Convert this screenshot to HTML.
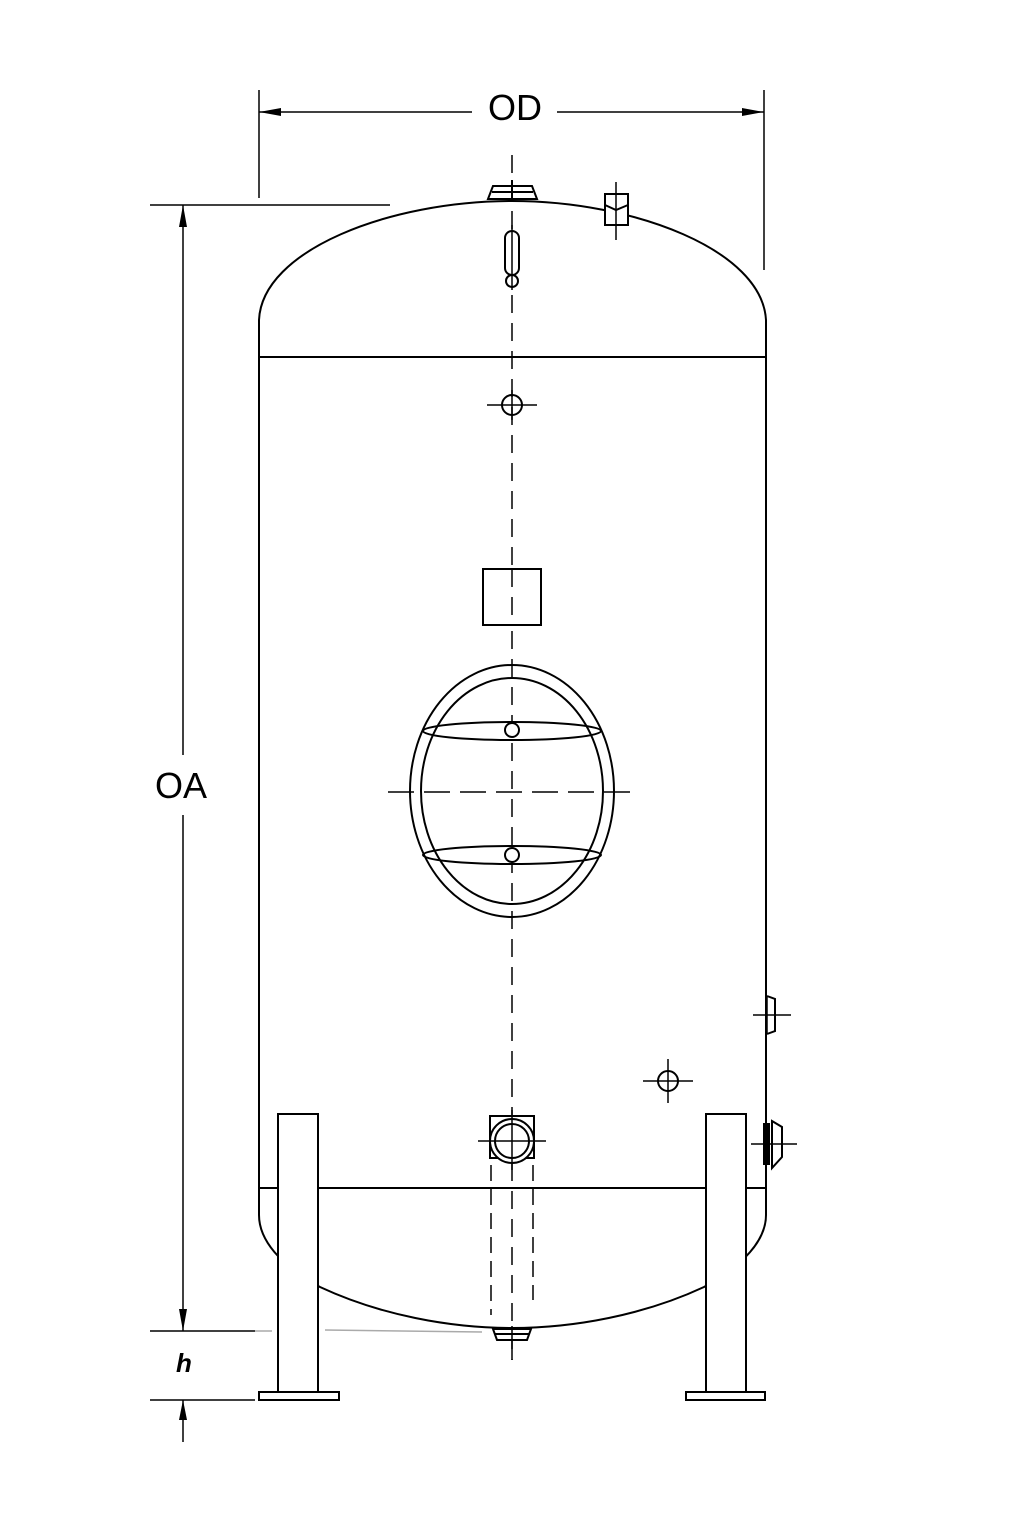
<!DOCTYPE html>
<html><head><meta charset="utf-8"><style>html,body{margin:0;padding:0;background:#fff}svg{display:block}</style></head>
<body>
<svg width="1024" height="1536" viewBox="0 0 1024 1536" xmlns="http://www.w3.org/2000/svg" fill="none" stroke="#000" stroke-width="2">
<!-- OD dimension -->
<line x1="259" y1="90" x2="259" y2="198" stroke-width="1.5"/>
<line x1="764" y1="90" x2="764" y2="270" stroke-width="1.5"/>
<line x1="259" y1="112" x2="472" y2="112" stroke-width="1.5"/>
<line x1="557" y1="112" x2="764" y2="112" stroke-width="1.5"/>
<path d="M259,112 l22,-4 l0,8z M764,112 l-22,-4 l0,8z" fill="#000" stroke="none"/>
<text x="515" y="120" font-family="Liberation Sans, sans-serif" font-size="36" fill="#000" stroke="none" text-anchor="middle">OD</text>
<!-- OA dimension -->
<line x1="150" y1="205" x2="390" y2="205" stroke-width="1.5"/>
<line x1="183" y1="205" x2="183" y2="755" stroke-width="1.5"/>
<line x1="183" y1="815" x2="183" y2="1331" stroke-width="1.5"/>
<path d="M183,205 l-4,22 l8,0z M183,1331 l-4,-22 l8,0z" fill="#000" stroke="none"/>
<text x="181" y="798" font-family="Liberation Sans, sans-serif" font-size="36" fill="#000" stroke="none" text-anchor="middle">OA</text>
<line x1="150" y1="1331" x2="255" y2="1331" stroke-width="1.5"/>
<line x1="255" y1="1331" x2="272" y2="1331" stroke="#aaa" stroke-width="1.5"/>
<line x1="325" y1="1330" x2="482" y2="1332" stroke="#aaa" stroke-width="1.5"/>
<text x="184" y="1372" font-family="Liberation Sans, sans-serif" font-size="26" font-weight="bold" font-style="italic" fill="#000" stroke="none" text-anchor="middle">h</text>
<line x1="150" y1="1400" x2="255" y2="1400" stroke-width="1.5"/>
<line x1="183" y1="1400" x2="183" y2="1442" stroke-width="1.5"/>
<path d="M183,1400 l-4,20 l8,0z" fill="#000" stroke="none"/>
<!-- vessel -->
<path d="M259,1188 L259,320 C262,250 390,201 512,201 C634,201 762,250 766,320 L766,1188"/>
<line x1="259" y1="357" x2="766" y2="357"/>
<line x1="259" y1="1188" x2="766" y2="1188"/>
<path d="M259,1188 L259,1215 C259,1240 280,1265 320,1287 C380,1315 450,1328 512,1328 C574,1328 644,1315 704,1287 C744,1265 766,1240 766,1215 L766,1188"/>
<!-- legs -->
<rect x="278" y="1114" width="40" height="278" fill="#fff"/>
<rect x="259" y="1392" width="80" height="8" fill="#fff"/>
<rect x="706" y="1114" width="40" height="278" fill="#fff"/>
<rect x="686" y="1392" width="79" height="8" fill="#fff"/>
<!-- centerline -->
<line x1="512" y1="155" x2="512" y2="1360" stroke-width="1.5" stroke-dasharray="18,10"/>
<!-- top fittings -->
<path d="M488,199 L493,186 L532,186 L537,199 Z" fill="#fff"/>
<line x1="492" y1="192" x2="533" y2="192"/>
<line x1="512" y1="180" x2="512" y2="200"/>
<rect x="505" y="231" width="14" height="44" rx="7" fill="#fff"/>
<circle cx="512" cy="281" r="6" fill="#fff"/>
<line x1="512" y1="225" x2="512" y2="290" stroke-width="1.5"/>
<rect x="605" y="194" width="23" height="31" fill="#fff"/>
<path d="M605,205 L616,210 L628,205" />
<line x1="616" y1="182" x2="616" y2="240" stroke-width="1.5"/>
<!-- nozzle -->
<circle cx="512" cy="405" r="10"/>
<line x1="487" y1="405" x2="537" y2="405" stroke-width="1.5"/>
<line x1="512" y1="390" x2="512" y2="420" stroke-width="1.5"/>
<rect x="483" y="569" width="58" height="56" fill="#fff"/>
<line x1="512" y1="569" x2="512" y2="625" stroke-width="1.5" stroke-dasharray="18,10"/>
<!-- manhole -->
<ellipse cx="512" cy="791" rx="102" ry="126"/>
<ellipse cx="512" cy="791" rx="91" ry="113"/>
<ellipse cx="512" cy="731" rx="89" ry="9"/>
<ellipse cx="512" cy="855" rx="89" ry="9"/>
<circle cx="512" cy="730" r="7" fill="#fff"/>
<circle cx="512" cy="855" r="7" fill="#fff"/>
<line x1="388" y1="792" x2="640" y2="792" stroke-width="1.5" stroke-dasharray="26,10"/>
<!-- right side fittings -->
<path d="M767,996 L775,999 L775,1031 L767,1034"/>
<line x1="753" y1="1015" x2="791" y2="1015" stroke-width="1.5"/>
<line x1="767" y1="997" x2="767" y2="1034" stroke-width="1.5"/>
<path d="M772,1121 L782,1127 L782,1157 L772,1168 Z"/>
<rect x="764" y="1124" width="5" height="40" fill="#000"/>
<line x1="751" y1="1144" x2="797" y2="1144" stroke-width="1.5"/>
<circle cx="668" cy="1081" r="10"/>
<line x1="643" y1="1081" x2="693" y2="1081" stroke-width="1.5"/>
<line x1="668" y1="1059" x2="668" y2="1103" stroke-width="1.5"/>
<!-- bottom outlet -->
<rect x="490" y="1116" width="44" height="42" fill="#fff"/>
<circle cx="512" cy="1141" r="22" fill="#fff"/>
<circle cx="512" cy="1141" r="17"/>
<line x1="478" y1="1141" x2="546" y2="1141" stroke-width="1.5"/>
<line x1="512" y1="1110" x2="512" y2="1170" stroke-width="1.5"/>
<line x1="491" y1="1165" x2="491" y2="1315" stroke-width="1.5" stroke-dasharray="16,8"/>
<line x1="533" y1="1165" x2="533" y2="1300" stroke-width="1.5" stroke-dasharray="16,8"/>
<path d="M493,1329 L497,1340 L527,1340 L531,1329 Z" fill="#fff"/>
<line x1="495" y1="1334" x2="529" y2="1334"/>
<line x1="512" y1="1326" x2="512" y2="1360" stroke-width="1.5"/>
</svg>
</body></html>
